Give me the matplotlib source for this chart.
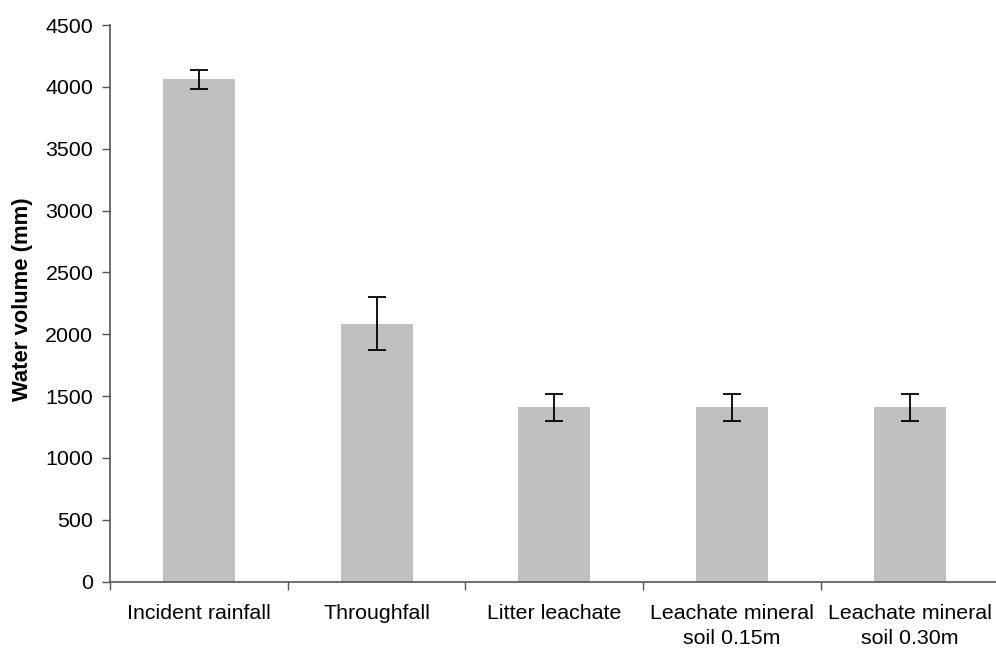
import matplotlib.pyplot as plt
import numpy as np

plt.rcParams['font.family'] = ['Liberation Sans', 'DejaVu Sans']

# mean water volume per compartment and its error
categories = ['Incident rainfall', 'Throughfall', 'Litter leachate',
              'Leachate mineral\nsoil 0.15m', 'Leachate mineral\nsoil 0.30m']
volume = [4060, 2085, 1410, 1410, 1410]
error = [75, 213, 110, 110, 110]
y_ticks = [0, 500, 1000, 1500, 2000, 2500, 3000, 3500, 4000, 4500]

fig = plt.figure(figsize=(9.96, 6.51), dpi=100)
ax = fig.add_axes([110 / 996, 0.1065, 888.5 / 996, 0.855])

x = np.arange(len(categories))
ax.bar(x, volume, width=0.405, color='#c0c0c0', zorder=1)
ax.errorbar(x, volume, yerr=error, fmt='none', ecolor='black',
            elinewidth=1.3, capsize=6.5, capthick=1.3, zorder=2)

ax.set_xlim(-0.5, 4.5)
ax.set_ylim(0, 4500)
ax.set_yticks(y_ticks)
ax.tick_params(axis='y', labelsize=15.4, length=6, width=1, color='#555555', pad=6)

# category boundaries as ticks, names centred between them
ax.set_xticks(np.arange(-0.5, 5, 1))
ax.set_xticklabels([])
ax.set_xticks(x, minor=True)
ax.set_xticklabels(categories, minor=True, fontsize=15.4, linespacing=1.42)
ax.tick_params(axis='x', which='major', length=6, width=1, color='#555555')
ax.tick_params(axis='x', which='minor', length=0, pad=16)

for side in ['top', 'right']:
    ax.spines[side].set_visible(False)
for side in ['left', 'bottom']:
    ax.spines[side].set_color('#555555')
    ax.spines[side].set_linewidth(1.2)

ax.set_ylabel('Water volume (mm)', fontsize=15.8, fontweight='bold')
ax.yaxis.set_label_coords(-0.087, 0.508)

fig.savefig('out.png', dpi=100)
